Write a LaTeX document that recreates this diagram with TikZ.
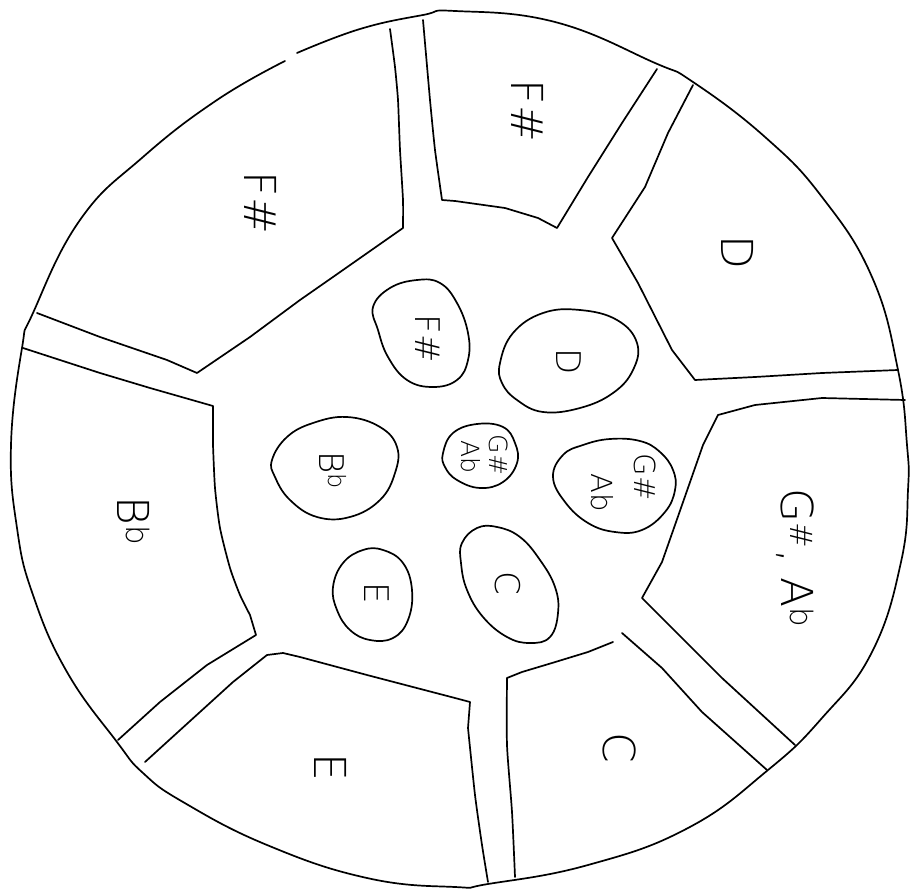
\documentclass[tikz,border=0pt]{standalone}
\usepackage{fontspec}
\newfontfamily\hand{DejaVu Sans ExtraLight}
\begin{document}
\begin{tikzpicture}[x=1pt,y=-1pt,
  ink/.style={line width=1.7pt,line cap=round,line join=round},
  padlabel/.style={rotate=-90,inner sep=0pt,font=\hand\fontsize{44}{48}\selectfont},
  ovallabel/.style={rotate=-90,inner sep=0pt,font=\hand\fontsize{34}{38}\selectfont},
  smalllabel/.style={rotate=-90,inner sep=0pt,font=\hand\fontsize{25}{27}\selectfont},
  midlabel/.style={rotate=-90,inner sep=0pt,font=\hand\fontsize{29}{31}\selectfont}]
\useasboundingbox (0,0) rectangle (910,890);
\fill[white] (0,0) rectangle (910,890);

% outer rim (with the small gap at the upper left)
\draw[ink] plot[smooth,tension=0.75] coordinates {
 (297,53) (360,29) (423,15) (455,11) (555,22) (655,63) (693,82) (765,137)
 (822,197) (872,277) (898,370) (907,445) (908,490) (901,562) (872,652)
 (822,718) (768,770) (688,828) (588,865) (488,884) (455,887) (367,878)
 (267,845) (183,802) (143,773) (117,742) (67,672) (33,595) (17,528)
 (11,445) (22,348) (33,313) (80,220) (143,157) (217,100) (285,61)};

% pad F# (top)
\draw[ink] plot[smooth,tension=0.3] coordinates {(423,20) (430,100) (435,150) (442,200)}
  -- (455,201) -- (505,208) -- (538,218) -- (557,228)
  -- (588,177) -- (622,123) -- (657,69);
% pad F# (upper left)
\draw[ink] plot[smooth,tension=0.3] coordinates {(390,29) (395,67) (398,100) (400,150) (403,200) (403,228)}
  -- (333,277) -- (300,300) -- (250,337) -- (197,373)
  -- (167,360) -- (100,337) -- (37,313);
% pad Bb
\draw[ink] (23,348) -- (100,373) -- (150,388) -- (213,406)
  -- plot[smooth,tension=0.4] coordinates {(213,445) (215,488) (220,528) (230,568) (240,595) (250,615)} -- (256,635)
  -- (207,665) -- (160,702) -- (118,740);
% pad E
\draw[ink] (145,762) -- (200,712) -- (233,682) -- (267,655) -- (283,653)
  -- (300,657) -- (367,675) -- (455,698) -- (470,702)
  -- plot[smooth,tension=0.4] coordinates {(468,728) (475,795) (482,845) (488,882)};
% pad C
\draw[ink] plot[smooth,tension=0.4] coordinates {(515,877) (512,812) (507,745) (507,678)}
  -- (522,672) -- (552,663) -- (588,652) -- (613,642);
\draw[ink] (622,633) -- (662,668) -- (702,712) -- (767,770);
% pad G#, Ab
\draw[ink] (795,745) -- (722,678) -- (642,598)
  -- plot[smooth,tension=0.4] coordinates {(662,562) (682,505) (703,445)} -- (718,415)
  -- (755,405) -- (822,398) -- (905,400);
% pad D
\draw[ink] (693,85) -- (668,133) -- (645,187) -- (612,238)
  -- (638,283) -- (672,350) -- (695,380)
  -- (755,377) -- (822,373) -- (898,370);

% inner notes
\draw[ink] plot[smooth cycle,tension=0.7] coordinates {
 (373,307) (390,288) (417,280) (440,283) (457,303) (468,333) (468,360)
 (457,380) (433,387) (407,380) (388,357) (378,330)};
\draw[ink] plot[smooth cycle,tension=0.7] coordinates {
 (500,363) (513,333) (543,313) (580,310) (617,320) (637,343) (633,370)
 (613,393) (580,408) (543,412) (517,400) (502,383)};
\draw[ink] plot[smooth cycle,tension=0.7] coordinates {
 (272,460) (287,437) (313,423) (347,417) (380,427) (397,447) (395,473)
 (380,500) (350,517) (317,517) (290,500) (275,477)};
\draw[ink] plot[smooth cycle,tension=0.7] coordinates {
 (443,453) (453,433) (477,424) (503,427) (515,443) (517,463) (503,482)
 (480,488) (457,480) (445,467)};
\draw[ink] plot[smooth cycle,tension=0.7] coordinates {
 (553,477) (563,455) (583,445) (610,439) (640,441) (660,452) (673,470)
 (675,490) (665,512) (642,530) (615,532) (588,523) (565,502)};
\draw[ink] plot[smooth cycle,tension=0.7] coordinates {
 (462,543) (477,528) (497,527) (520,537) (540,560) (555,587) (558,613)
 (550,637) (530,643) (507,637) (483,617) (467,590) (461,563)};
\draw[ink] plot[smooth cycle,tension=0.7] coordinates {
 (333,587) (343,563) (363,550) (383,550) (403,563) (412,590) (408,620)
 (393,638) (370,640) (350,630) (337,610)};

% pad labels
\node[padlabel] (lFsTop) at (528,111) {F\#};
\node[padlabel] (lFsLeft) at (261,203) {F\#};
\node[padlabel] (lD) at (738,252) {D};
\node[padlabel] (lGsAb) at (795,558) {G\textsuperscript{\#}, A\textsuperscript{b}};
\node[padlabel] (lC) at (620,748) {C};
\node[padlabel] (lE) at (331,767) {E};
\node[padlabel] (lBb) at (134,521) {B\textsuperscript{b}};

% note labels
\node[ovallabel] (nFs) at (428,339) {F\#};
\node[ovallabel] (nD) at (569,362) {D};
\node[ovallabel] (nBb) at (333,470) {B\textsuperscript{b}};
\node[ovallabel] (nC) at (508,583) {C};
\node[ovallabel] (nE) at (377,593) {E};
\node[smalllabel] (nGsMid) at (499,455) {G\#};
\node[smalllabel] (nAbMid) at (471,457) {Ab};
\node[midlabel] (nGsR) at (645,477) {G\#};
\node[midlabel] (nAbR) at (602,493) {Ab};
\end{tikzpicture}
\end{document}
